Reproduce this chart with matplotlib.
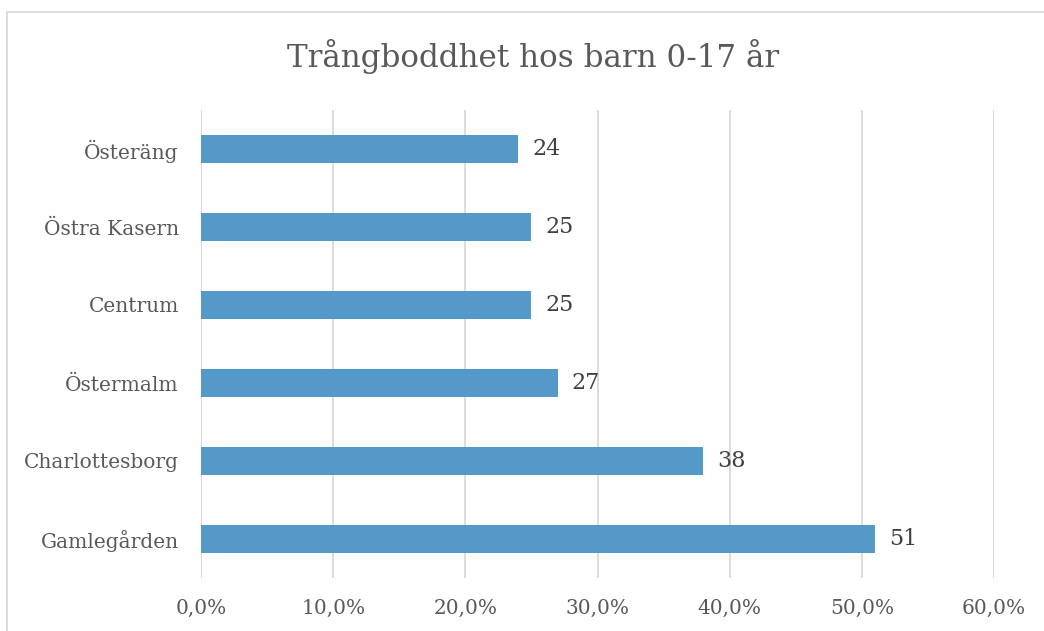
import numpy as np
import matplotlib
matplotlib.use("Agg")
import matplotlib.pyplot as plt
from matplotlib.patches import Rectangle

plt.rcParams['font.family'] = ['DejaVu Serif']

areas = ["Gamlegården", "Charlottesborg", "Östermalm", "Centrum", "Östra Kasern", "Österäng"]
values = [51, 38, 27, 25, 25, 24]
xticks = [0, 10, 20, 30, 40, 50, 60]
title = "Trångboddhet hos barn 0-17 år"

text_col = "#595959"
bar_col = "#5599c8"

W, H = 1044, 631
fig = plt.figure(figsize=(W / 100, H / 100), dpi=100)
ax = fig.add_axes([201 / W, 1 - 578 / H, (994 - 201) / W, (578 - 110) / H])

y = np.arange(len(areas))
ax.barh(y, values, height=0.35, color=bar_col, zorder=3)
for yi, v in zip(y, values):
    ax.annotate(str(v), (v, yi), xytext=(10, 0), textcoords="offset points",
                va="center", ha="left", fontsize=16, color="#404040")

ax.set_xlim(0, 60)
ax.set_ylim(-0.5, len(areas) - 0.5)
ax.set_xticks(xticks)
ax.set_xticklabels([f"{t},0%" for t in xticks])
ax.set_yticks(y)
ax.set_yticklabels(areas)
ax.tick_params(length=0, labelsize=14.5, labelcolor=text_col)
ax.tick_params(axis="x", pad=15)
ax.tick_params(axis="y", pad=16)
ax.grid(axis="x", color="#d9d9d9", linewidth=1.3, zorder=0)
for s in ax.spines.values():
    s.set_visible(False)

fig.text(533 / W, 1 - 57 / H, title, ha="center", va="center", fontsize=22.3, color=text_col)
fig.patches.append(Rectangle((7 / W, -0.1), 1.2, 1 - 12 / H + 0.1, transform=fig.transFigure,
                             fill=False, edgecolor="#d9d9d9", linewidth=1.3))

fig.savefig("out.png", dpi=100)
